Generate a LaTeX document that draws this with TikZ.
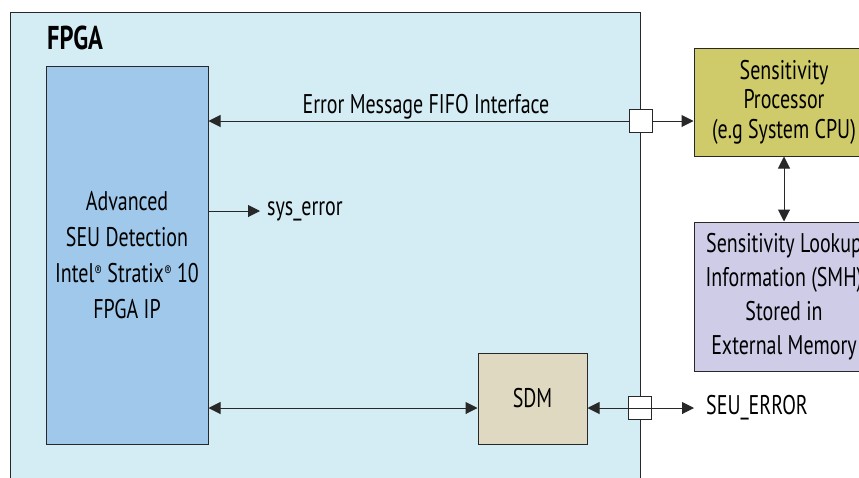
\documentclass[tikz,border=0pt]{standalone}
\usepackage{fontspec}
\setmainfont{PT Sans}[FakeStretch=0.74]
\usetikzlibrary{arrows.meta}

\definecolor{fpgabg}{RGB}{212,236,243}
\definecolor{ipblue}{RGB}{159,200,234}
\definecolor{procyel}{RGB}{207,203,106}
\definecolor{lookpur}{RGB}{207,204,232}
\definecolor{sdmtan}{RGB}{224,217,194}
\definecolor{linegray}{RGB}{40,40,40}

\newcommand{\regmark}{\raisebox{6pt}{\fontsize{15}{15}\selectfont ®}}

\begin{document}
\begin{tikzpicture}[%
      x=1pt, y=-1pt,
      box/.style={draw=linegray, line width=1pt, inner sep=0pt, align=center},
      lbl/.style={inner sep=0pt, font={\fontsize{27}{27}\selectfont}},
      port/.style={draw=linegray, fill=white, line width=1pt, minimum size=23pt, inner sep=0pt},
      arr/.style={draw=linegray, line width=1pt, -{Triangle[length=12pt,width=12pt]}},
      dbl/.style={draw=linegray, line width=1pt, {Triangle[length=12pt,width=12pt]}-{Triangle[length=12pt,width=12pt]}},
      ]
      \useasboundingbox (0,0) rectangle (859,477);

      % FPGA region
      \node [box, fill=fpgabg, anchor=north west, minimum width=630pt, minimum height=480pt] (fpga) at (10,12) {};
      \node [lbl, anchor=base west, font={\fontsize{33}{33}\selectfont\bfseries}] (fpgalbl) at (47,49) {FPGA};

      % blocks
      \node [box, fill=ipblue, minimum width=162pt, minimum height=378pt,
             font={\fontsize{27}{36}\selectfont}] (ip) at (127,255)
            {Advanced\\SEU Detection\\Intel\regmark{} Stratix\regmark{} 10\\FPGA IP};
      \node [box, fill=sdmtan, minimum width=109pt, minimum height=91pt,
             font={\fontsize{27}{27}\selectfont}] (sdm) at (532.5,398.5) {SDM};
      \node [box, fill=procyel, minimum width=180pt, minimum height=108pt,
             font={\fontsize{27}{29.5}\selectfont}] (proc) at (784,102)
            {Sensitivity\\Processor\\(e.g System CPU)};
      \node [box, fill=lookpur, minimum width=180pt, minimum height=149pt,
             font={\fontsize{27}{34}\selectfont}] (look) at (784,296.5)
            {Sensitivity Lookup\\Information (SMH)\\Stored in\\External Memory};

      % ports on the FPGA edge
      \node [port] (fifo) at (641,121) {};
      \node [port] (seuport) at (640,408) {};

      % labels
      \node [lbl, anchor=base] (fifolbl) at (426,113) {Error Message FIFO Interface};
      \node [lbl, anchor=west, inner xsep=7pt] (syserr) at (260,211) {sys\_error};
      \node [lbl, anchor=west, inner xsep=12pt] (seu) at (694,408) {SEU\_ERROR};

      % connections
      \draw [arr] (fifo.west) -- (ip.east |- fifo);
      \draw [arr] (fifo.east) -- (proc.west |- fifo);
      \draw [dbl] (proc.south) -- (look.north);
      \draw [arr] (ip.east |- syserr) -- (syserr.west);
      \draw [dbl] (ip.east |- seuport) -- (sdm.west |- seuport);
      \draw [dbl] (sdm.east |- seuport) -- (seu.west);
\end{tikzpicture}
\end{document}
